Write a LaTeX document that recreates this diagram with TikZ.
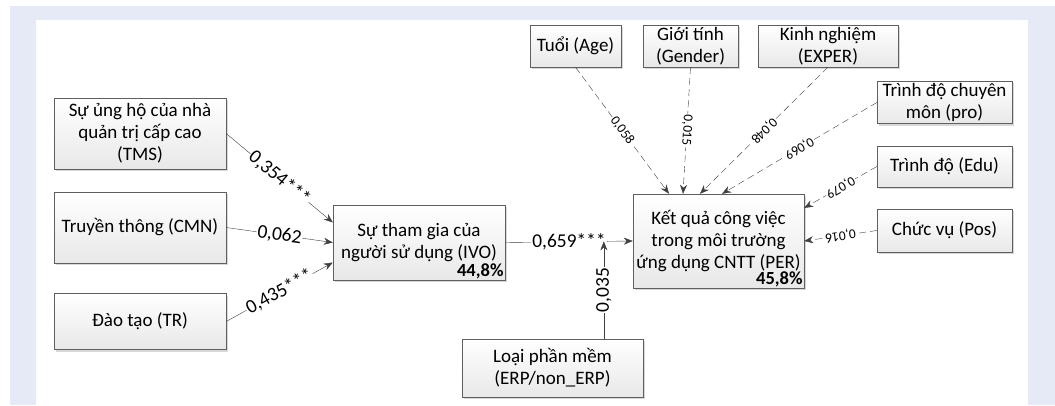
\documentclass[tikz,border=0pt]{standalone}
\usepackage{fontspec}
\setmainfont{Carlito}
\usepackage{tikz}
\usetikzlibrary{shadows, arrows.meta}
\definecolor{bgblue}{HTML}{E6EAF6}
\definecolor{edge}{HTML}{404040}
\definecolor{boxline}{HTML}{5F5F5F}
\newcommand{\boxfont}{\fontsize{19}{22}\selectfont}
\newcommand{\pathfont}{\fontsize{19.5}{22}\selectfont}
\newcommand{\smallfont}{\fontsize{13.5}{16}\selectfont}
\tikzstyle{factor} = [rectangle, draw = boxline, top color = white, bottom color = black!9, drop shadow = {shadow xshift=2pt, shadow yshift=-2pt, opacity=0.3}, align = center, inner sep = 2pt, font = \boxfont]
\tikzstyle{arrow} = [draw = edge, -{Stealth[length=9pt,width=7pt]}]
\tikzstyle{darrow} = [arrow, dash pattern = on 7pt off 4pt]
\tikzstyle{weight} = [fill = white, inner sep = 1pt, sloped, allow upside down, font = \pathfont]
\tikzstyle{dweight} = [weight, font = \smallfont]
\tikzstyle{share} = [anchor = south east, inner sep = 1.5pt, font = \fontsize{18.5}{22}\selectfont\bfseries]

\begin{document}
\begin{tikzpicture}[x = 1pt, y = -1pt, node distance = 94pt]
	%--Background--%
	\useasboundingbox (0,0) rectangle (1055,405);
	\fill[bgblue] (10,6) rectangle (1055,405);
	\fill[white] (36,20) rectangle (1028,405);

	%--Antecedents--%
	\node(tms)[factor, minimum width=172pt, minimum height=71pt] at (140,133.5) {Sự ủng hộ của nhà\\quản trị cấp cao\\(TMS)};
	\node(cmn)[factor, minimum width=172pt, minimum height=71pt, below of=tms] {Truyền thông (CMN)};
	\node(tr)[factor, minimum width=172pt, minimum height=56pt, below of=cmn] {Đào tạo (TR)};

	%--Mediator and Outcome--%
	\node(ivo)[factor, minimum width=172pt, minimum height=75pt] at (419,242.5) {Sự tham gia của\\người sử dụng (IVO)};
	\node(ivo-r2)[share] at (ivo.south east) {44,8\%};
	\node(per)[factor, minimum width=171pt, minimum height=94pt] at (718.5,241) {Kết quả công việc\\trong môi trường\\ứng dụng CNTT (PER)};
	\node(per-r2)[share] at (per.south east) {45,8\%};

	%--Moderator--%
	\node(erp)[factor, minimum width=181pt, minimum height=58pt] at (552.5,368) {Loại phần mềm\\(ERP/non\_ERP)};

	%--Controls--%
	\node(age)[factor, minimum width=91pt, minimum height=42pt] at (575.5,46) {Tuổi (Age)};
	\node(gender)[factor, minimum width=95pt, minimum height=42pt] at (690.5,46) {Giới tính\\(Gender)};
	\node(exper)[factor, minimum width=140pt, minimum height=42pt] at (828,46) {Kinh nghiệm\\(EXPER)};
	\node(pro)[factor, minimum width=135pt, minimum height=41pt] at (944.5,102.5) {Trình độ chuyên\\môn (pro)};
	\node(edu)[factor, minimum width=135pt, minimum height=41pt, below of=pro, node distance=64pt] {Trình độ (Edu)};
	\node(pos)[factor, minimum width=135pt, minimum height=43pt, below of=edu, node distance=64pt] {Chức vụ (Pos)};

	%--Paths--%
	\draw[arrow] (tms.east) -- node[weight]{0,354***} ([yshift=20pt]ivo.west);
	\draw[arrow] (cmn.east) -- node[weight]{0,062} (ivo.west);
	\draw[arrow] (tr.east) -- node[weight]{0,435***} ([yshift=-20pt]ivo.west);
	\draw[arrow] (ivo.east) -- node[weight]{0,659***} coordinate[pos=0.773](mod) (per.west);
	\draw[arrow] (erp.north -| mod) -- node[weight]{0,035} (mod);

	%--Control Paths--%
	\draw[darrow] (age.south) -- node[dweight]{0,058} ([xshift=-49.5pt]per.north);
	\draw[darrow] (gender.south) -- node[dweight]{0,015} ([xshift=-35.5pt]per.north);
	\draw[darrow] (exper.south) -- node[dweight]{0,048} ([xshift=-18.5pt]per.north);
	\draw[darrow] (pro.west) -- node[dweight]{0,069} ([xshift=3.5pt]per.north);
	\draw[darrow] (edu.west) -- node[dweight]{0,079} ([yshift=33pt]per.east);
	\draw[darrow] (pos.west) -- node[dweight]{0,016} (per.east);
\end{tikzpicture}
\end{document}
